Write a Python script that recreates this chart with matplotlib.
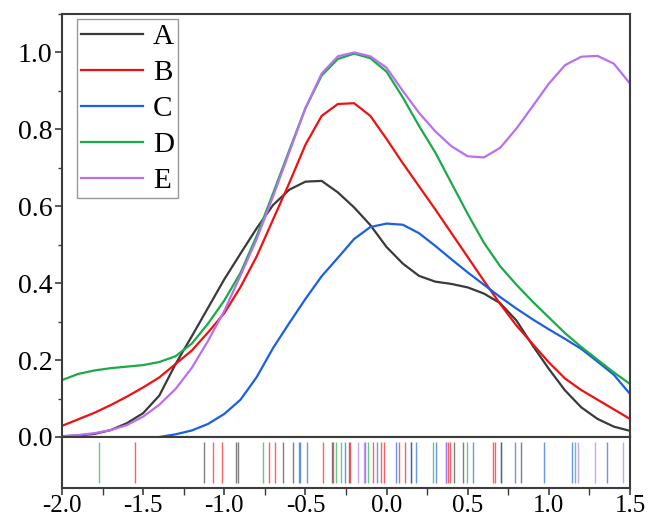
import matplotlib
matplotlib.use('Agg')
import matplotlib.pyplot as plt
from matplotlib.ticker import MultipleLocator, FuncFormatter
import numpy as np

plt.rcParams['font.family'] = ['Liberation Serif', 'DejaVu Serif']

x_vals = [-2.0, -1.9, -1.8, -1.7, -1.6, -1.5, -1.4, -1.3, -1.2, -1.1,
          -1.0, -0.9, -0.8, -0.7, -0.6, -0.5, -0.4, -0.3, -0.2, -0.1,
          0.0, 0.1, 0.2, 0.3, 0.4, 0.5, 0.6, 0.7, 0.8, 0.9,
          1.0, 1.1, 1.2, 1.3, 1.4, 1.5]

# density curves
dens_A = [0.002, 0.004, 0.008, 0.018, 0.036, 0.062, 0.108, 0.19, 0.262, 0.336,
          0.41, 0.477, 0.543, 0.603, 0.643, 0.664, 0.666, 0.636, 0.597, 0.551,
          0.494, 0.451, 0.419, 0.404, 0.398, 0.389, 0.373, 0.348, 0.303, 0.238,
          0.177, 0.121, 0.077, 0.047, 0.027, 0.016]
dens_B = [0.029, 0.046, 0.063, 0.083, 0.105, 0.129, 0.155, 0.19, 0.225, 0.272,
          0.322, 0.39, 0.47, 0.565, 0.66, 0.76, 0.835, 0.866, 0.868, 0.835,
          0.775, 0.712, 0.652, 0.592, 0.53, 0.468, 0.406, 0.346, 0.29, 0.242,
          0.194, 0.152, 0.122, 0.097, 0.072, 0.047]
dens_C = [None, None, None, None, None, None, 0.0, 0.007, 0.017, 0.034,
          0.060, 0.097, 0.156, 0.231, 0.296, 0.359, 0.418, 0.466, 0.515, 0.546,
          0.555, 0.552, 0.53, 0.497, 0.462, 0.428, 0.396, 0.364, 0.334, 0.306,
          0.280, 0.255, 0.229, 0.196, 0.162, 0.112]
dens_D = [0.148, 0.164, 0.173, 0.179, 0.183, 0.187, 0.195, 0.21, 0.243, 0.295,
          0.355, 0.427, 0.523, 0.633, 0.745, 0.855, 0.94, 0.983, 0.997, 0.985,
          0.95, 0.883, 0.809, 0.74, 0.66, 0.58, 0.505, 0.444, 0.396, 0.352,
          0.311, 0.270, 0.234, 0.201, 0.168, 0.138]
dens_E = [0.002, 0.005, 0.010, 0.018, 0.031, 0.053, 0.084, 0.125, 0.18, 0.25,
          0.328, 0.42, 0.515, 0.625, 0.74, 0.855, 0.945, 0.99, 1.0, 0.99,
          0.96, 0.90, 0.843, 0.795, 0.756, 0.730, 0.727, 0.752, 0.802, 0.860,
          0.919, 0.967, 0.989, 0.991, 0.971, 0.919]

# rug (raw observations)
rug_A = [-1.125, -0.926, -0.914, -0.636, -0.575, -0.335, -0.23, 0.15, 0.415, 0.469, 0.705, 0.826]
rug_B = [-1.55, -1.07, -1.014, -0.722, -0.686, -0.39, -0.328, -0.226, -0.086, -0.036, -0.014,
         0.076, 0.113, 0.376, 0.39, 0.654, 0.67]
rug_C = [-0.541, -0.535, -0.492, -0.256, -0.13, -0.061, 0.056, 0.15, 0.181, 0.304, 0.364,
         0.53, 0.705, 0.791, 0.97, 1.142, 1.356]
rug_D = [-1.77, -0.76, -0.31, -0.279, -0.113, 0.284, 0.493, 1.159]
rug_E = [-0.174, -0.14, 0.364, 1.177, 1.284, 1.455]

labels = ['A', 'B', 'C', 'D', 'E']
colors = ['#3a3a3a', '#f01010', '#1a5fe6', '#1aaa48', '#b870f0']

dens = [dens_A, dens_B, dens_C, dens_D, dens_E]
rugs = [rug_A, rug_B, rug_C, rug_D, rug_E]

fig = plt.figure(figsize=(6.49, 5.20), dpi=100)
ax = fig.add_axes([62/649, 83/520, 568/649, 423/520])
ax_rug = fig.add_axes([62/649, 32/520, 568/649, 51/520], sharex=ax)

for d, c, lab in zip(dens, colors, labels):
    y = np.array([np.nan if v is None else v for v in d], dtype=float)
    ax.plot(x_vals, y, color=c, lw=1.6, label=lab)

for r, c in zip(rugs, colors):
    ax_rug.vlines(r, 0.1, 0.9, color=c, lw=1.0, alpha=0.65)

spine_c = '#3c3c3c'
for a in (ax, ax_rug):
    for s in a.spines.values():
        s.set_color(spine_c)
        s.set_linewidth(1.5)

ax.set_xlim(-2.0, 1.5)
ax.set_ylim(0, 1.1)
ax.yaxis.set_major_locator(MultipleLocator(0.2))
ax.yaxis.set_minor_locator(MultipleLocator(0.1))
ax.yaxis.set_major_formatter(FuncFormatter(lambda v, p: f'{v:.1f}'))
ax.tick_params(axis='y', which='major', direction='out', length=5, width=1.2,
               color=spine_c, labelsize=20, pad=2)
ax.tick_params(axis='y', which='minor', direction='out', length=3, width=1.0, color=spine_c)
ax.tick_params(axis='x', which='both', bottom=False, labelbottom=False)

ax_rug.set_ylim(0, 1)
ax_rug.set_yticks([])
ax_rug.xaxis.set_major_locator(MultipleLocator(0.5))
ax_rug.xaxis.set_minor_locator(MultipleLocator(0.25))
ax_rug.xaxis.set_major_formatter(FuncFormatter(lambda v, p: f'{v:.1f}'))
ax_rug.tick_params(axis='x', which='major', direction='out', length=5, width=1.2,
                   color=spine_c, labelsize=18, pad=0)
ax_rug.tick_params(axis='x', which='minor', direction='out', length=5, width=1.0, color=spine_c)

leg = ax.legend(loc='upper left', bbox_to_anchor=(77/649, 501/520),
                bbox_transform=fig.transFigure, fontsize=21, frameon=True,
                fancybox=False, edgecolor='#808080', borderpad=0.15,
                labelspacing=0.33, handlelength=2.1, handletextpad=0.35,
                borderaxespad=0)
leg.get_frame().set_linewidth(1.0)

plt.savefig('out.png', dpi=100)
